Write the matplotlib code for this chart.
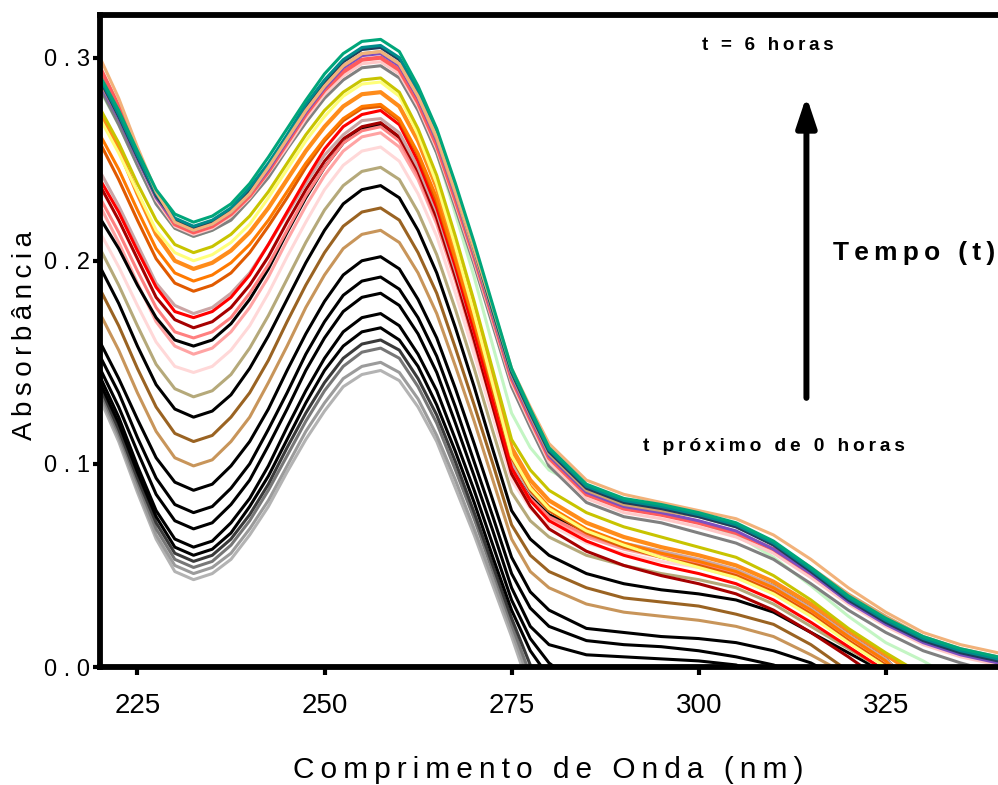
import numpy as np
import matplotlib
matplotlib.use("Agg")
import matplotlib.pyplot as plt

# wavelength grid (nm) shared by all spectra
wavelength = [220, 222.5, 225, 227.5, 230, 232.5, 235, 237.5, 240, 242.5,
              245, 247.5, 250, 252.5, 255, 257.5, 260, 262.5, 265, 267.5,
              270, 272.5, 275, 277.5, 280, 285, 290, 295, 300, 305,
              310, 315, 320, 325, 330, 335, 340]

# absorbance spectra, in acquisition order (t ~ 0 h first, t = 6 h last)
s01 = [0.132, 0.111, 0.086, 0.063, 0.047, 0.043, 0.046, 0.053, 0.065, 0.079,
       0.096, 0.112, 0.126, 0.138, 0.144, 0.146, 0.141, 0.128, 0.111, 0.088,
       0.065, 0.040, 0.015, -0.012] + [-0.03] * 13
s02 = [0.134, 0.113, 0.088, 0.065, 0.050, 0.046, 0.049, 0.056, 0.068, 0.082,
       0.099, 0.116, 0.130, 0.142, 0.148, 0.150, 0.145, 0.132, 0.114, 0.092,
       0.068, 0.043, 0.018, -0.008] + [-0.03] * 13
s03 = [0.136, 0.115, 0.091, 0.068, 0.053, 0.049, 0.052, 0.060, 0.072, 0.087,
       0.104, 0.121, 0.136, 0.148, 0.155, 0.157, 0.152, 0.138, 0.120, 0.097,
       0.073, 0.047, 0.021, -0.004] + [-0.03] * 13
s04 = [0.138, 0.117, 0.093, 0.071, 0.056, 0.052, 0.055, 0.063, 0.075, 0.090,
       0.108, 0.125, 0.140, 0.152, 0.159, 0.161, 0.156, 0.142, 0.124, 0.101,
       0.076, 0.050, 0.024, 0.001, -0.02] + [-0.03] * 12
s05 = [0.140, 0.120, 0.096, 0.074, 0.059, 0.055, 0.058, 0.066, 0.079, 0.094,
       0.112, 0.130, 0.146, 0.158, 0.165, 0.167, 0.161, 0.148, 0.129, 0.106,
       0.081, 0.054, 0.028, 0.008, -0.005] + [-0.03] * 12
s06 = [0.143, 0.123, 0.099, 0.077, 0.063, 0.059, 0.062, 0.071, 0.083, 0.099,
       0.118, 0.136, 0.152, 0.165, 0.172, 0.174, 0.168, 0.154, 0.136, 0.112,
       0.087, 0.060, 0.033, 0.014, 0.002, -0.012] + [-0.03] * 11
s07 = [0.147, 0.128, 0.106, 0.085, 0.072, 0.068, 0.071, 0.080, 0.092, 0.109,
       0.127, 0.146, 0.162, 0.175, 0.182, 0.184, 0.178, 0.164, 0.145, 0.120,
       0.094, 0.067, 0.039, 0.020, 0.011, 0.006, 0.005, 0.004, 0.003, 0.001,
       -0.006, -0.02, -0.03, -0.03, -0.03, -0.03, -0.03]
s08 = [0.153, 0.135, 0.113, 0.093, 0.080, 0.076, 0.079, 0.088, 0.100, 0.117,
       0.135, 0.154, 0.170, 0.183, 0.190, 0.192, 0.186, 0.172, 0.153, 0.128,
       0.101, 0.074, 0.046, 0.029, 0.020, 0.013, 0.011, 0.010, 0.008, 0.005,
       0.001, -0.006, -0.02, -0.03, -0.03, -0.03, -0.03]
s09 = [0.160, 0.142, 0.122, 0.103, 0.091, 0.087, 0.090, 0.099, 0.111, 0.127,
       0.146, 0.164, 0.180, 0.193, 0.200, 0.202, 0.196, 0.181, 0.162, 0.137,
       0.110, 0.082, 0.054, 0.037, 0.028, 0.019, 0.017, 0.015, 0.014, 0.012,
       0.008, 0.002, -0.008, -0.02, -0.03, -0.03, -0.03]
s10 = [0.174, 0.156, 0.135, 0.116, 0.103, 0.099, 0.102, 0.111, 0.123, 0.140,
       0.158, 0.177, 0.193, 0.206, 0.213, 0.215, 0.209, 0.194, 0.174, 0.148,
       0.121, 0.092, 0.063, 0.047, 0.039, 0.031, 0.027, 0.025, 0.023, 0.020,
       0.015, 0.006, -0.004, -0.02, -0.03, -0.03, -0.03]
s11 = [0.186, 0.168, 0.147, 0.128, 0.115, 0.111, 0.114, 0.123, 0.135, 0.151,
       0.170, 0.188, 0.204, 0.217, 0.224, 0.226, 0.220, 0.204, 0.184, 0.157,
       0.129, 0.100, 0.070, 0.055, 0.047, 0.039, 0.034, 0.032, 0.030, 0.026,
       0.021, 0.011, -0.002, -0.02, -0.03, -0.03, -0.03]
s12 = [0.197, 0.179, 0.158, 0.139, 0.127, 0.123, 0.126, 0.134, 0.147, 0.163,
       0.181, 0.199, 0.215, 0.228, 0.235, 0.237, 0.231, 0.215, 0.194, 0.167,
       0.138, 0.107, 0.077, 0.063, 0.055, 0.046, 0.041, 0.038, 0.036, 0.033,
       0.027, 0.017, 0.007, -0.003, -0.02, -0.03, -0.03]
s13 = [0.206, 0.188, 0.168, 0.149, 0.137, 0.133, 0.136, 0.144, 0.157, 0.173,
       0.191, 0.209, 0.225, 0.237, 0.244, 0.246, 0.240, 0.224, 0.203, 0.176,
       0.147, 0.116, 0.086, 0.072, 0.064, 0.055, 0.050, 0.046, 0.043, 0.039,
       0.031, 0.020, 0.009, -0.002, -0.02, -0.03, -0.03]
s14 = [0.214, 0.197, 0.178, 0.160, 0.148, 0.145, 0.148, 0.156, 0.168, 0.184,
       0.202, 0.219, 0.235, 0.247, 0.254, 0.256, 0.249, 0.233, 0.212, 0.184,
       0.154, 0.123, 0.092, 0.078, 0.070, 0.061, 0.056, 0.052, 0.049, 0.044,
       0.036, 0.025, 0.013, 0.002, -0.015, -0.03, -0.03]
s15 = [0.227, 0.209, 0.189, 0.170, 0.158, 0.154, 0.157, 0.165, 0.177, 0.192,
       0.210, 0.227, 0.242, 0.254, 0.261, 0.263, 0.256, 0.240, 0.218, 0.190,
       0.159, 0.128, 0.096, 0.082, 0.073, 0.064, 0.058, 0.054, 0.050, 0.045,
       0.037, 0.026, 0.014, 0.003, -0.015, -0.03, -0.03]
s16 = [0.221, 0.206, 0.188, 0.172, 0.161, 0.158, 0.161, 0.169, 0.181, 0.196,
       0.214, 0.231, 0.246, 0.258, 0.265, 0.267, 0.260, 0.243, 0.221, 0.193,
       0.162, 0.130, 0.098, 0.084, 0.075, 0.066, 0.060, 0.056, 0.052, 0.047,
       0.040, 0.029, 0.016, 0.004, -0.015, -0.03, -0.03]
s17 = [0.231, 0.214, 0.195, 0.177, 0.165, 0.162, 0.165, 0.172, 0.184, 0.198,
       0.215, 0.232, 0.246, 0.258, 0.264, 0.266, 0.259, 0.242, 0.220, 0.192,
       0.161, 0.129, 0.097, 0.083, 0.074, 0.065, 0.059, 0.055, 0.051, 0.046,
       0.038, 0.027, 0.015, 0.003, -0.015, -0.03, -0.03]
s18 = [0.237, 0.220, 0.201, 0.182, 0.171, 0.167, 0.170, 0.177, 0.188, 0.202,
       0.219, 0.235, 0.249, 0.260, 0.266, 0.268, 0.261, 0.244, 0.221, 0.192,
       0.161, 0.128, 0.095, 0.079, 0.068, 0.057, 0.050, 0.045, 0.041, 0.036,
       0.028, 0.017, 0.005, -0.008, -0.02, -0.03, -0.03]
s19 = [0.244, 0.227, 0.208, 0.189, 0.178, 0.174, 0.177, 0.184, 0.194, 0.208,
       0.223, 0.238, 0.252, 0.262, 0.269, 0.270, 0.263, 0.246, 0.224, 0.195,
       0.165, 0.132, 0.100, 0.086, 0.077, 0.067, 0.061, 0.057, 0.053, 0.048,
       0.040, 0.029, 0.016, 0.004, -0.015, -0.03, -0.03]
s20 = [0.240, 0.224, 0.205, 0.187, 0.175, 0.172, 0.175, 0.182, 0.193, 0.208,
       0.224, 0.240, 0.255, 0.266, 0.272, 0.274, 0.267, 0.249, 0.226, 0.197,
       0.165, 0.131, 0.098, 0.082, 0.072, 0.062, 0.055, 0.050, 0.046, 0.041,
       0.033, 0.022, 0.010, -0.002, -0.02, -0.03, -0.03]
s21 = [0.258, 0.240, 0.220, 0.201, 0.189, 0.185, 0.188, 0.194, 0.204, 0.217,
       0.231, 0.246, 0.259, 0.269, 0.275, 0.276, 0.269, 0.252, 0.229, 0.200,
       0.169, 0.136, 0.103, 0.087, 0.077, 0.066, 0.059, 0.054, 0.050, 0.045,
       0.037, 0.026, 0.013, 0.001, -0.015, -0.03, -0.03]
s22 = [0.262, 0.245, 0.225, 0.206, 0.194, 0.190, 0.193, 0.199, 0.208, 0.220,
       0.234, 0.248, 0.260, 0.270, 0.276, 0.277, 0.270, 0.253, 0.231, 0.201,
       0.170, 0.138, 0.105, 0.089, 0.079, 0.068, 0.061, 0.056, 0.052, 0.047,
       0.039, 0.028, 0.015, 0.003, -0.015, -0.03, -0.03]
s23 = [0.273, 0.255, 0.233, 0.213, 0.200, 0.196, 0.199, 0.205, 0.214, 0.226,
       0.240, 0.254, 0.266, 0.276, 0.282, 0.283, 0.276, 0.259, 0.236, 0.206,
       0.175, 0.141, 0.108, 0.092, 0.082, 0.071, 0.064, 0.059, 0.055, 0.050,
       0.042, 0.031, 0.018, 0.006, -0.006, -0.02, -0.03]
s24 = [0.270, 0.253, 0.234, 0.215, 0.204, 0.200, 0.203, 0.209, 0.218, 0.231,
       0.245, 0.259, 0.271, 0.281, 0.287, 0.288, 0.281, 0.262, 0.238, 0.207,
       0.174, 0.139, 0.104, 0.088, 0.078, 0.067, 0.060, 0.054, 0.049, 0.044,
       0.036, 0.025, 0.012, 0.000, -0.015, -0.03, -0.03]
s25 = [0.275, 0.258, 0.238, 0.220, 0.208, 0.204, 0.207, 0.213, 0.222, 0.234,
       0.248, 0.262, 0.274, 0.283, 0.289, 0.290, 0.283, 0.265, 0.242, 0.212,
       0.180, 0.146, 0.112, 0.097, 0.087, 0.076, 0.069, 0.064, 0.059, 0.054,
       0.045, 0.033, 0.019, 0.007, -0.004, -0.02, -0.03]
s26 = [0.284, 0.267, 0.247, 0.228, 0.216, 0.212, 0.215, 0.221, 0.230, 0.243,
       0.257, 0.271, 0.283, 0.293, 0.299, 0.300, 0.293, 0.276, 0.253, 0.223,
       0.192, 0.158, 0.125, 0.108, 0.097, 0.087, 0.080, 0.076, 0.071, 0.065,
       0.054, 0.040, 0.025, 0.012, 0.003, -0.008, -0.02]
s27 = [0.285, 0.267, 0.247, 0.228, 0.216, 0.212, 0.215, 0.220, 0.230, 0.241,
       0.255, 0.268, 0.280, 0.289, 0.295, 0.296, 0.290, 0.274, 0.253, 0.226,
       0.198, 0.168, 0.138, 0.118, 0.099, 0.081, 0.074, 0.071, 0.066, 0.061,
       0.053, 0.041, 0.028, 0.017, 0.008, 0.002, -0.003]
s28 = [0.290, 0.272, 0.250, 0.230, 0.217, 0.213, 0.216, 0.222, 0.231, 0.243,
       0.256, 0.270, 0.282, 0.291, 0.297, 0.298, 0.292, 0.276, 0.255, 0.228,
       0.200, 0.170, 0.140, 0.120, 0.101, 0.083, 0.076, 0.073, 0.069, 0.064,
       0.056, 0.044, 0.031, 0.020, 0.011, 0.005, 0.001]
s29 = [0.295, 0.276, 0.253, 0.232, 0.218, 0.214, 0.217, 0.223, 0.232, 0.244,
       0.258, 0.272, 0.284, 0.293, 0.299, 0.300, 0.294, 0.278, 0.257, 0.230,
       0.202, 0.172, 0.142, 0.122, 0.103, 0.085, 0.078, 0.075, 0.071, 0.066,
       0.058, 0.046, 0.033, 0.022, 0.013, 0.007, 0.003]
s30 = [0.287, 0.270, 0.250, 0.231, 0.219, 0.215, 0.218, 0.224, 0.233, 0.245,
       0.259, 0.273, 0.285, 0.295, 0.301, 0.302, 0.296, 0.280, 0.259, 0.232,
       0.203, 0.173, 0.143, 0.123, 0.104, 0.086, 0.079, 0.076, 0.072, 0.067,
       0.058, 0.046, 0.032, 0.021, 0.012, 0.006, 0.002]
s31 = [0.288, 0.271, 0.251, 0.232, 0.220, 0.216, 0.219, 0.225, 0.234, 0.246,
       0.260, 0.274, 0.286, 0.296, 0.302, 0.303, 0.297, 0.281, 0.260, 0.233,
       0.204, 0.174, 0.144, 0.124, 0.105, 0.087, 0.080, 0.077, 0.074, 0.069,
       0.061, 0.049, 0.036, 0.025, 0.015, 0.009, 0.005]
s32 = [0.289, 0.271, 0.251, 0.232, 0.220, 0.216, 0.219, 0.225, 0.235, 0.247,
       0.261, 0.276, 0.288, 0.298, 0.304, 0.305, 0.299, 0.283, 0.262, 0.235,
       0.206, 0.175, 0.145, 0.125, 0.106, 0.088, 0.081, 0.078, 0.074, 0.069,
       0.060, 0.047, 0.033, 0.022, 0.013, 0.007, 0.003]
s33 = [0.290, 0.272, 0.252, 0.233, 0.221, 0.217, 0.220, 0.226, 0.236, 0.248,
       0.262, 0.277, 0.289, 0.299, 0.305, 0.306, 0.300, 0.284, 0.263, 0.236,
       0.207, 0.176, 0.146, 0.126, 0.107, 0.089, 0.082, 0.079, 0.075, 0.070,
       0.061, 0.048, 0.034, 0.023, 0.014, 0.008, 0.004]
s34 = [0.300, 0.280, 0.256, 0.234, 0.219, 0.215, 0.218, 0.224, 0.233, 0.246,
       0.260, 0.274, 0.286, 0.296, 0.302, 0.303, 0.297, 0.281, 0.261, 0.234,
       0.206, 0.177, 0.147, 0.128, 0.110, 0.092, 0.085, 0.081, 0.077, 0.073,
       0.065, 0.053, 0.039, 0.027, 0.017, 0.011, 0.007]
s35 = [0.291, 0.274, 0.254, 0.235, 0.223, 0.219, 0.222, 0.228, 0.238, 0.251,
       0.265, 0.279, 0.292, 0.302, 0.308, 0.309, 0.303, 0.286, 0.265, 0.238,
       0.209, 0.178, 0.147, 0.127, 0.108, 0.090, 0.083, 0.080, 0.076, 0.071,
       0.062, 0.049, 0.035, 0.024, 0.015, 0.009, 0.005]

spectra = [s01, s02, s03, s04, s05, s06, s07, s08, s09, s10, s11, s12,
           s13, s14, s15, s16, s17, s18, s19, s20, s21, s22, s23, s24,
           s25, s26, s27, s28, s29, s30, s31, s32, s33, s34, s35]

line_colors = ["#b3b3b3", "#9b9b9b", "#777777", "#3a3a3a", "black", "black",
               "black", "black", "black", "#c8955a", "#9a6322", "black",
               "#b5a97a", "#ffd8d8", "#ffa3a3", "black", "#ff8080", "#a50000",
               "#cba5a5", "#ff0000", "#e05a00", "#ff7a00", "#ff8c1a", "#ffff7a",
               "#c8c400", "#c3f5c3", "#808080", "#ffc8c8", "#ff5c5c", "#7d4fc0",
               "#d4a26e", "#1f3d5c", "#008b8b", "#f2b27a", "#00a67a"]
thick = {22, 28}

x_ticks = [225, 250, 275, 300, 325]
y_ticks = [0.0, 0.1, 0.2, 0.3]

SANS = ["Liberation Sans", "DejaVu Sans"]


def spaced(text, gap="\u2009"):
    """Loose letter spacing, like the original instrument software."""
    return gap.join(text)


fig = plt.figure(figsize=(9.98, 7.85), dpi=100)
ax = fig.add_axes([100 / 998, 1 - 667 / 785, 1 - 100 / 998, (667 - 15) / 785])

for i, (spec, col) in enumerate(zip(spectra, line_colors)):
    ax.plot(wavelength, spec, color=col, lw=3.0 if i in thick else 2.2,
            solid_joinstyle="round", solid_capstyle="round")

ax.set_xlim(220, 340)
ax.set_ylim(0, 0.321)

for side in ("left", "bottom", "top"):
    ax.spines[side].set_linewidth(4.2)
ax.spines["right"].set_visible(False)

ax.set_xticks(x_ticks)
ax.set_xticklabels([str(v) for v in x_ticks], fontsize=20, family=SANS,
                   fontstretch="condensed")
ax.set_yticks(y_ticks)
ax.set_yticklabels([f"{v:.1f}".replace(".", " . ") for v in y_ticks],
                   fontsize=17, family=SANS)
ax.tick_params(axis="x", direction="out", length=6, width=3, pad=13)
ax.tick_params(axis="y", direction="out", length=5, width=3, pad=2)

fig.text(25 / 998, 1 - 335 / 785, spaced("Absorbância"), rotation=90,
         ha="center", va="center", fontsize=20, family=SANS)
fig.text(548 / 998, 1 - 770 / 785, spaced("Comprimento de Onda (nm)"),
         ha="center", va="center", fontsize=21.5, family=SANS,
         fontstretch="condensed")

# time arrow and its annotations
ax.annotate("", xy=(314.4, 0.281), xytext=(314.4, 0.1325),
            arrowprops=dict(arrowstyle="-|>,head_width=0.3,head_length=0.9",
                            lw=4.3, color="black", mutation_scale=20,
                            shrinkA=0, shrinkB=0))
ax.text(309.3, 0.306, spaced("t = 6 horas"), ha="center", va="center",
        fontsize=13.5, fontweight="bold", family=SANS)
ax.text(318.0, 0.204, spaced("Tempo (t)"), ha="left", va="center",
        fontsize=19, fontweight="bold", family=SANS, clip_on=False)
ax.text(310.0, 0.1084, spaced("t próximo de 0 horas"), ha="center",
        va="center", fontsize=13.8, fontweight="bold", family=SANS)

fig.savefig("out.png", dpi=100)
plt.close(fig)
